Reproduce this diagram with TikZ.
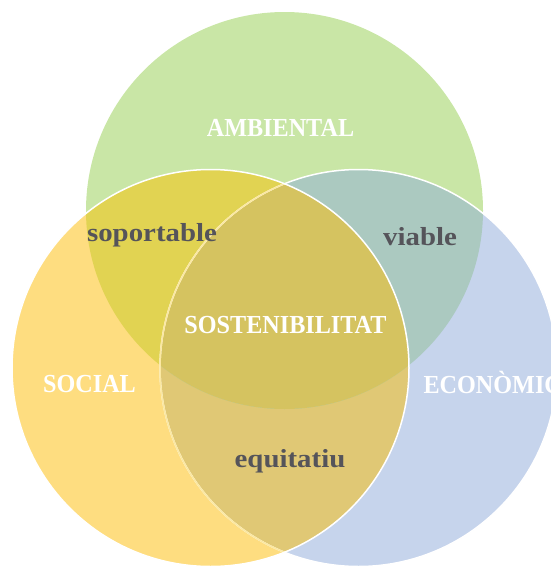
\documentclass[tikz,border=0pt]{standalone}
\usepackage{fontspec}
\setmainfont{Liberation Serif}
\newfontfamily\capsfont[FakeStretch=0.93]{Liberation Serif}
\newfontfamily\wordfont[FakeStretch=1.11]{Liberation Serif}
\definecolor{ambientcol}{HTML}{C9E6A6}
\definecolor{socialcol}{HTML}{FEDD80}
\definecolor{economcol}{HTML}{C6D4EC}
\definecolor{soportcol}{HTML}{E1D352}
\definecolor{viablecol}{HTML}{ABC9C0}
\definecolor{equitcol}{HTML}{E0C875}
\definecolor{sostcol}{HTML}{D5C360}
\definecolor{edgecol}{HTML}{FBE8A2}
\definecolor{wordcol}{HTML}{55545A}
\begin{document}
\begin{tikzpicture}[x=1pt,y=-1pt,
    setname/.style={white,anchor=base,font=\capsfont\bfseries\fontsize{26}{30}\selectfont},
    mixname/.style={wordcol,anchor=base,font=\wordfont\bfseries\fontsize{26}{30}\selectfont}]
  \def\rad{198.5}
  \useasboundingbox (0,0) rectangle (551,570);
  \clip (0,0) rectangle (551,570);
  \coordinate (amb) at (284.5,210.5);
  \coordinate (soc) at (210.5,368);
  \coordinate (eco) at (358.5,368);
  % the three sets
  \fill[ambientcol] (amb) circle (\rad);
  \fill[socialcol] (soc) circle (\rad);
  \fill[economcol] (eco) circle (\rad);
  % overlaps
  \begin{scope}
    \clip (soc) circle (\rad);
    \fill[equitcol] (eco) circle (\rad);
  \end{scope}
  \begin{scope}
    \clip (amb) circle (\rad);
    \fill[soportcol] (soc) circle (\rad);
    \fill[viablecol] (eco) circle (\rad);
    \clip (soc) circle (\rad);
    \fill[sostcol] (eco) circle (\rad);
  \end{scope}
  % rims
  \draw[white,line width=1.5] (eco) circle (\rad);
  \begin{scope}
    \clip (soc) circle (\rad);
    \draw[edgecol,line width=1.5] (eco) circle (\rad);
  \end{scope}
  \draw[white,line width=1.5] (soc) circle (\rad);
  % labels
  \node[setname] (ambient) at (280.5,136) {AMBIENTAL};
  \node[setname] (social) at (89.5,392) {SOCIAL};
  \node[setname,anchor=base west] (economic) at (420,393) {ECONÒMIC};
  \node[setname] (sosten) at (285.5,333) {SOSTENIBILITAT};
  \node[mixname] (soport) at (152,241) {soportable};
  \node[mixname] (viable) at (420,245) {viable};
  \node[mixname] (equit) at (290,467) {equitatiu};
\end{tikzpicture}
\end{document}
